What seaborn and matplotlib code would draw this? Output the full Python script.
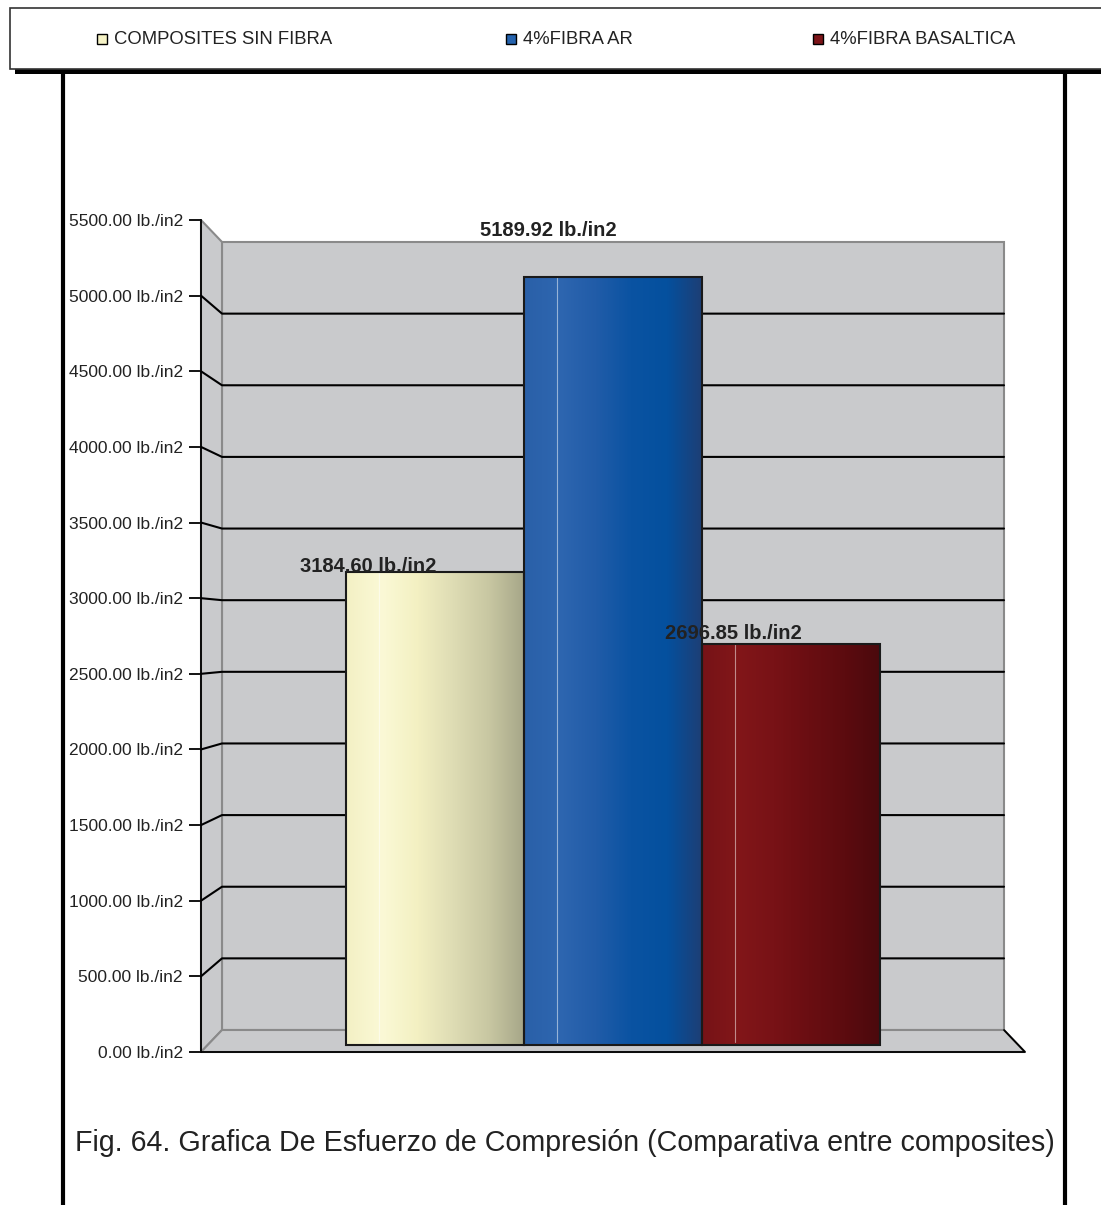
import numpy as np
import pandas as pd
import matplotlib
matplotlib.use("Agg")
import matplotlib.pyplot as plt
from matplotlib.colors import LinearSegmentedColormap
from matplotlib.patches import Polygon, Rectangle
import seaborn as sns

# datos
categories = ["COMPOSITES SIN FIBRA", "4%FIBRA AR", "4%FIBRA BASALTICA"]
values = [3184.60, 5189.92, 2696.85]
yticks = [0, 500, 1000, 1500, 2000, 2500, 3000, 3500, 4000, 4500, 5000, 5500]
unit = "lb./in2"
caption = "Fig. 64. Grafica De Esfuerzo de Compresión (Comparativa entre composites)"

# colores (muestra de leyenda y degradado de cada cilindro)
swatch = ["#F6F3C6", "#2563AE", "#7C1418"]
gradients = [
    ["#F3F0C4", "#FBF9D6", "#F3F0C2", "#DEDCB4", "#C8C7A2", "#A6A688"],
    ["#2A60A8", "#2E66B0", "#215CA8", "#0A53A2", "#04509E", "#1E3E74"],
    ["#761317", "#821619", "#781216", "#6A0E12", "#5C0B0F", "#4A090D"],
]
label_offsets = [(-48, 4.3), (-46, 33), (-41, 7.2)]   # puntos

sns.set_style("white")
plt.rcParams["font.family"] = ["Liberation Sans", "DejaVu Sans"]

W, H = 1101, 1205
fig = plt.figure(figsize=(W / 100, H / 100), dpi=100)

# capa en pixeles para marco, leyenda y pie
bg = fig.add_axes([0, 0, 1, 1])
bg.set_xlim(0, W)
bg.set_ylim(H, 0)
bg.axis("off")

ax = fig.add_axes([201 / W, 1 - 1052 / H, (1025 - 201) / W, (1052 - 220) / H])
ax.patch.set_alpha(0)

df = pd.DataFrame({"cat": categories, "val": values})
sns.barplot(data=df, x="cat", y="val", hue="cat", palette=swatch, order=categories,
            width=1.0, saturation=1, legend=False, ax=ax, zorder=3)

x0, x1 = -1.312, 3.317
ymax = 5500
dx = 21 / 178
dy = 22 * ymax / 832        # fondo desplazado hacia arriba en 0
s_back = 788 / 832          # escala en perspectiva de la pared del fondo


def back(v):
    return dy + v * s_back


def mid(v):
    return dy / 2 + v * (1 + s_back) / 2


ax.set_xlim(x0, x1)
ax.set_ylim(0, ymax)

# paredes 3D
wall = "#C9CACC"
edge = "#8A8A8A"
ax.add_patch(Polygon([(x0 + dx, back(0)), (x1 - dx, back(0)), (x1 - dx, back(ymax)), (x0 + dx, back(ymax))],
                     closed=True, fc=wall, ec=edge, lw=1.5, zorder=0.5, clip_on=False))
ax.add_patch(Polygon([(x0, 0), (x0 + dx, back(0)), (x0 + dx, back(ymax)), (x0, ymax)],
                     closed=True, fc=wall, ec=edge, lw=1.5, zorder=0.6, clip_on=False))
ax.add_patch(Polygon([(x0, 0), (x0 + dx, back(0)), (x1 - dx, back(0)), (x1, 0)],
                     closed=True, fc=wall, ec=edge, lw=1.5, zorder=0.6, clip_on=False))
ax.plot([x0, x1, x1 - dx], [0, 0, back(0)], color="black", lw=1.3, zorder=0.7, clip_on=False)

for v in yticks[1:-1]:
    ax.plot([x0, x0 + dx, x1 - dx], [v, back(v), back(v)], color="black", lw=1.5,
            zorder=1, clip_on=False)

# cilindros con degradado
bottom = 7 * ymax / 832
for p, cols in zip(ax.patches[:len(values)], gradients):
    top = mid(p.get_height())
    p.set_y(bottom)
    p.set_height(top - bottom)
    p.set_facecolor("none")
    p.set_edgecolor("#1A1A1A")
    p.set_linewidth(1.5)
    p.set_zorder(4)
    xl, w = p.get_x(), p.get_width()
    cmap = LinearSegmentedColormap.from_list("g", cols)
    im = ax.imshow(np.linspace(0, 1, 256)[None, :], cmap=cmap, aspect="auto",
                   extent=(xl, xl + w, bottom, top), zorder=3)
    im.set_clip_path(p)
    ax.plot([xl + w * 0.19] * 2, [bottom + 20, top], color="white", alpha=0.5, lw=0.8, zorder=3.5)

ax.set_xlim(x0, x1)
ax.set_ylim(0, ymax)

# etiquetas de valor
for i, v in enumerate(values):
    ax.annotate(f"{v:.2f} {unit}", (i, mid(v)), xytext=label_offsets[i], textcoords="offset points",
                ha="center", va="center", fontsize=14.5, fontweight="bold", color="#222222",
                zorder=6)

# ejes
ax.set_xticks([])
ax.set_xlabel("")
ax.set_ylabel("")
ax.set_yticks(yticks)
ax.set_yticklabels([f"{t:.2f} {unit}" for t in yticks], fontsize=12.5, color="#222222")
ax.tick_params(axis="y", direction="out", length=9, width=1.3, color="black", pad=4, left=True)
for s in ["top", "right", "bottom"]:
    ax.spines[s].set_visible(False)
ax.spines["left"].set_color("black")
ax.spines["left"].set_linewidth(1.3)

# marco
bg.plot([63, 63], [72, H], color="black", lw=3)
bg.plot([1065, 1065], [72, H], color="black", lw=3)

# leyenda
bg.add_patch(Rectangle((15, 13), W, 61, fc="black", ec="none"))
bg.add_patch(Rectangle((10, 8), W, 61, fc="white", ec="#333333", lw=1.2))
leg_x = [97, 506, 813]
for xx, c, name in zip(leg_x, swatch, categories):
    bg.add_patch(Rectangle((xx, 34), 10, 10, fc=c, ec="black", lw=1))
    bg.text(xx + 17, 39.5, name, fontsize=13.3, va="center", ha="left", color="#222222")

bg.text(565, 1143, caption, fontsize=20.6, ha="center", va="center", color="#222222")

fig.savefig("out.png", dpi=100)
